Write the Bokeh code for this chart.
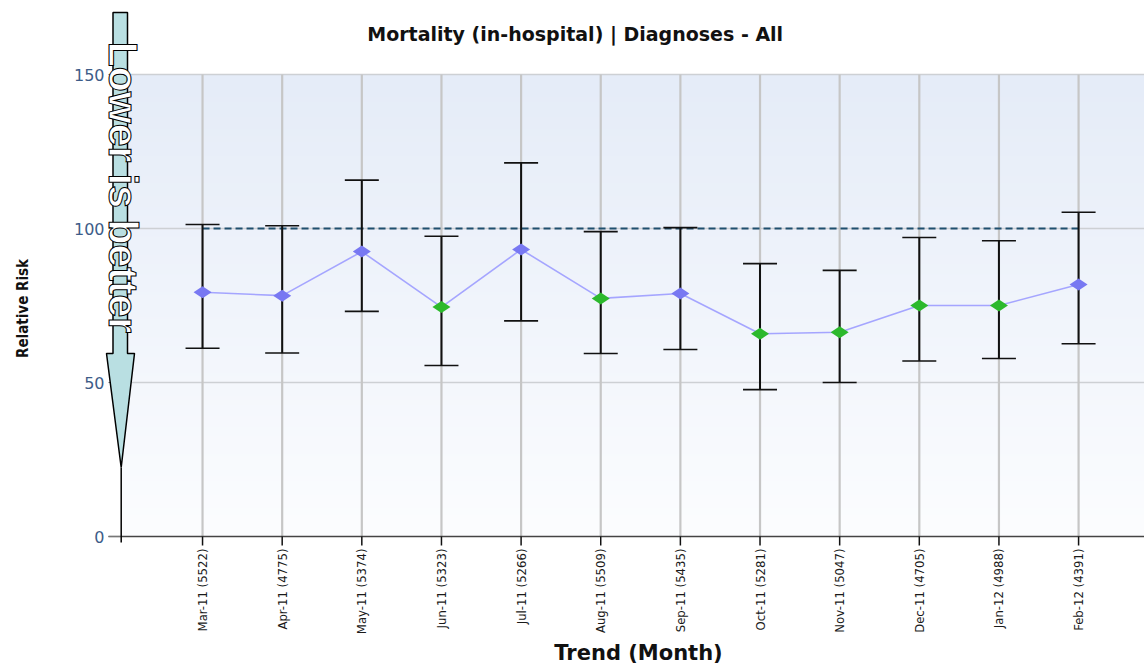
import numpy as np
from bokeh.plotting import figure
from bokeh.models import Range1d, Label
from bokeh.core.properties import value
from bokeh.embed import file_html
from bokeh.resources import INLINE
from math import pi

# ---- data -------------------------------------------------------------
months = ["Mar-11 (5522)", "Apr-11 (4775)", "May-11 (5374)", "Jun-11 (5323)",
          "Jul-11 (5266)", "Aug-11 (5509)", "Sep-11 (5435)", "Oct-11 (5281)",
          "Nov-11 (5047)", "Dec-11 (4705)", "Jan-12 (4988)", "Feb-12 (4391)"]
relative_risk = [79.3, 78.2, 92.5, 74.5, 93.2, 77.3, 78.9, 65.8, 66.3, 75.0, 75.0, 81.8]
upper_ci = [101.3, 100.9, 115.7, 97.5, 121.3, 99.0, 100.3, 88.6, 86.4, 97.1, 96.0, 105.3]
lower_ci = [61.1, 59.6, 73.1, 55.5, 70.0, 59.4, 60.7, 47.7, 50.0, 57.0, 57.8, 62.6]
benchmark = 100
y_ticks = [0, 50, 100, 150]
y_tick_labels = ["0", "50", "100", "150"]

# ---- layout helpers (page pixel -> data) -------------------------------
W, H = 1144, 664
PX0, PXSTEP = 122.4, 79.64      # x pixel of index 0, pixels per category
PY0, PYSCALE = 536.0, 3.08      # y pixel of value 0, pixels per unit


def xd(px):
    return (px - PX0) / PXSTEP


def yd(py):
    return (PY0 - py) / PYSCALE


p = figure(width=W, height=H, output_backend="svg", toolbar_location=None,
           x_range=Range1d(xd(0), xd(W)), y_range=Range1d(yd(H), yd(0)),
           x_axis_location=None, y_axis_location=None,
           min_border=0)
p.outline_line_color = None
p.background_fill_color = "white"
p.border_fill_color = "white"
p.grid.visible = False

xs = list(range(1, len(months) + 1))
plot_left, plot_right = xd(121), xd(W)

# background gradient inside 0..150
n = 256
top = np.array([0xE5, 0xEC, 0xF8])
bot = np.array([0xFC, 0xFD, 0xFF])
t = np.linspace(0, 1, n)[:, None]
cols = (bot * (1 - t) + top * t).astype(np.uint32)
img = np.empty((n, 1), dtype=np.uint32)
view = img.view(dtype=np.uint8).reshape((n, 1, 4))
view[:, 0, 0] = cols[:, 0]
view[:, 0, 1] = cols[:, 1]
view[:, 0, 2] = cols[:, 2]
view[:, 0, 3] = 255
p.image_rgba(image=[img], x=plot_left, y=0, dw=plot_right - plot_left, dh=150)

# horizontal grid lines
hg = [v for v in y_ticks if v > 0]
p.segment(x0=[plot_left] * len(hg), x1=[plot_right] * len(hg), y0=hg, y1=hg,
          line_color="#cdd0d4", line_width=1.3)
# vertical grid lines
p.segment(x0=xs, x1=xs, y0=[0] * len(xs), y1=[150] * len(xs),
          line_color="#c6c6c6", line_width=2.2)

# benchmark dashed line
p.line(x=[xs[0], xs[-1]], y=[benchmark, benchmark], line_color="#1f4f6e",
       line_width=2.2, line_dash="7 4")

# error bars
cap = 17 / PXSTEP
p.segment(x0=xs, x1=xs, y0=lower_ci, y1=upper_ci, line_color="#111111", line_width=2)
p.segment(x0=[x - cap for x in xs], x1=[x + cap for x in xs], y0=upper_ci, y1=upper_ci,
          line_color="#111111", line_width=1.6)
p.segment(x0=[x - cap for x in xs], x1=[x + cap for x in xs], y0=lower_ci, y1=lower_ci,
          line_color="#111111", line_width=1.6)

# series line and markers
p.line(x=xs, y=relative_risk, line_color="#9c9cff", line_width=1.6, line_alpha=0.9)
colors = ["#2cb92c" if u < benchmark else "#7878f2" for u in upper_ci]
p.scatter(x=xs, y=relative_risk, marker="diamond", angle=pi / 2, size=18,
          fill_color=colors, line_color=None)

# x axis: line, ticks, labels
p.segment(x0=[xd(108)], x1=[xd(W)], y0=[0], y1=[0], line_color="#444444", line_width=1.5)
p.segment(x0=xs, x1=xs, y0=[0] * len(xs), y1=[yd(545)] * len(xs),
          line_color="#111111", line_width=1.5)
p.text(x=xs, y=[yd(548)] * len(xs), text=months, angle=pi / 2,
       text_align="right", text_baseline="middle",
       text_font=value("DejaVu Sans Condensed"), text_font_size="13px",
       text_color="#1a1a1a")

# y axis: ticks and labels
p.segment(x0=[xd(108)] * len(y_ticks), x1=[xd(121)] * len(y_ticks), y0=y_ticks, y1=y_ticks,
          line_color="#777777", line_width=1.2)
p.text(x=[xd(104)] * len(y_ticks), y=y_ticks, text=y_tick_labels,
       text_align="right", text_baseline="middle",
       text_font=value("DejaVu Sans"), text_font_size="16px", text_color="#3d5c88")

# "Lower is better" arrow
arrow_px = [(112.5, 12), (127, 12), (127, 353), (134, 353), (120.7, 467),
            (106, 353), (112.5, 353)]
p.patch(x=[xd(a) for a, b in arrow_px], y=[yd(b) for a, b in arrow_px],
        fill_color="#b9dfe2", line_color="black", line_width=1.5)
p.line(x=[xd(120.7), xd(120.7)], y=[yd(467), yd(542)], line_color="black",
       line_width=1.5)
p.add_layout(Label(x=xd(122), y=yd(187), text="Lower is better", angle=-pi / 2,
                   text_align="center", text_baseline="middle",
                   text_font="Liberation Sans", text_font_style="bold",
                   text_font_size="41px", text_color="white",
                   text_outline_color="black"))

# titles
p.add_layout(Label(x=xd(578), y=yd(33), text="Mortality (in-hospital) |  Diagnoses - All",
                   text_align="center", text_baseline="middle",
                   text_font="DejaVu Sans", text_font_style="bold",
                   text_font_size="19px", text_color="#111111"))
p.add_layout(Label(x=xd(638), y=yd(652), text="Trend (Month)",
                   text_align="center", text_baseline="middle",
                   text_font="DejaVu Sans", text_font_style="bold",
                   text_font_size="21px", text_color="#111111"))
p.add_layout(Label(x=xd(22), y=yd(308), text="Relative Risk", angle=pi / 2,
                   text_align="center", text_baseline="middle",
                   text_font="DejaVu Sans Condensed", text_font_style="bold",
                   text_font_size="15px", text_color="#111111"))

open("out.html", "w").write(file_html(p, INLINE))
